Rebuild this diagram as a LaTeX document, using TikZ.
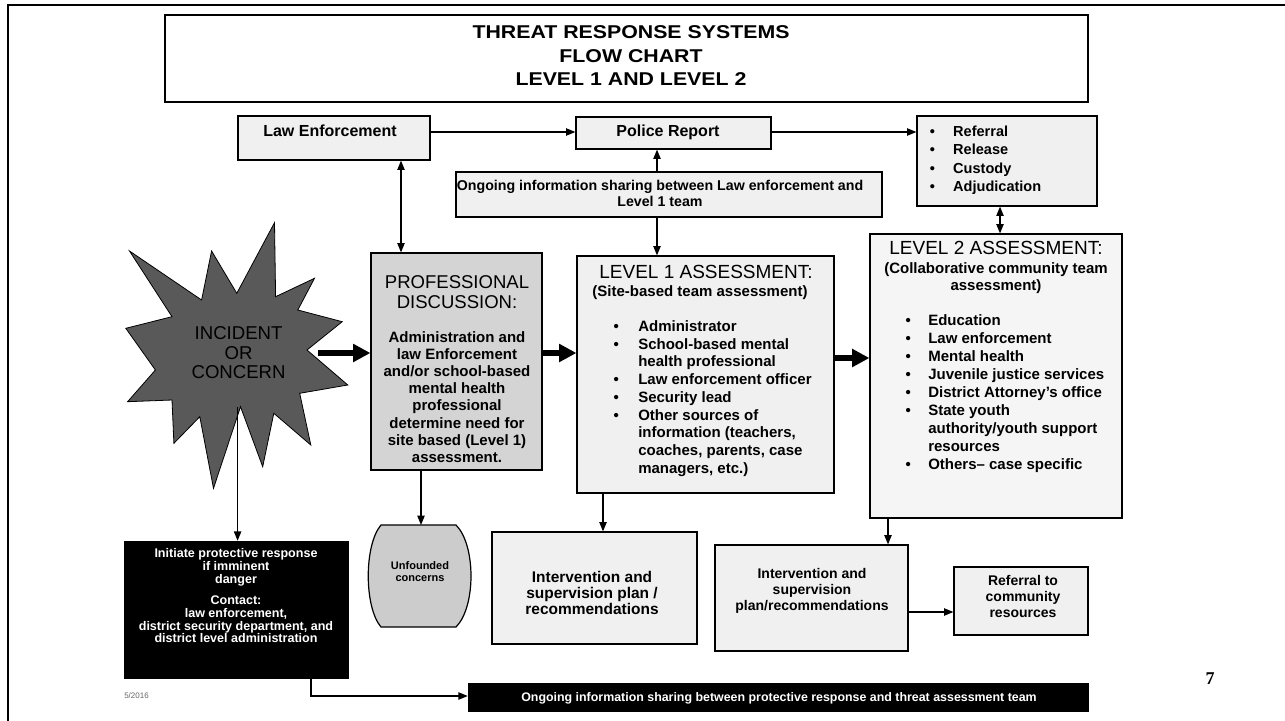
\documentclass[tikz,border=0pt]{standalone}
\usepackage{fontspec}
\setmainfont{Liberation Sans}
\newfontfamily\titlefont[FakeStretch=1.15]{Liberation Sans}
\newfontfamily\numfont{Liberation Serif}
\usetikzlibrary{arrows.meta,fit}
\newcommand\fsz[2]{\fontsize{#1}{#2}\selectfont}
\definecolor{boxfill}{gray}{0.94}
\definecolor{ltwofill}{gray}{0.96}
\definecolor{proffill}{gray}{0.83}
\definecolor{unffill}{gray}{0.80}
\definecolor{starfill}{gray}{0.35}
\begin{document}
\begin{tikzpicture}[x=0.75pt,y=-0.75pt,
  box/.style={draw=black, line width=0.9pt, fill=boxfill, inner sep=0pt},
  blackbox/.style={draw=black, fill=black, inner sep=0pt},
  txt/.style={inner sep=0pt, anchor=base},
  lst/.style={inner sep=0pt, anchor=base west},
  arr/.style={line width=0.9pt, -{Triangle[length=7pt,width=5.5pt]}},
  darr/.style={line width=0.9pt, {Triangle[length=7pt,width=5.5pt]}-{Triangle[length=7pt,width=5.5pt]}},
  bigarr/.style={line width=4.5pt, -{Triangle[length=13pt,width=13pt]}}]
\useasboundingbox (0,0) rectangle (1285,721);
% frame
\draw[line width=1.5pt] (8,721) -- (8,5) -- (1285,5);
% helper coordinates
\coordinate (y132) at (0,132);
\coordinate (y353) at (0,353);
\coordinate (y358) at (0,358);
\coordinate (y612) at (0,612);
\coordinate (y696) at (0,696);
\coordinate (x401) at (401,0);
\coordinate (x657) at (657,0);
\coordinate (x1000) at (1000,0);
\coordinate (x421) at (421,0);
\coordinate (x603) at (603,0);
\coordinate (x888) at (888,0);
\coordinate (x311) at (311,0);

% title
\node[draw=black, line width=2pt, fill=white, inner sep=0pt, fit={(165,15)(1088,102)}] (tbox) {};
\node[txt, font=\titlefont\bfseries\fsz{13.9pt}{17.6pt}] (ttl) at (631,38.6)
  {\begin{tabular}[t]{@{}c@{}}THREAT RESPONSE SYSTEMS\\FLOW CHART\\LEVEL 1 AND LEVEL 2\end{tabular}};

% top row
\node[box, fit={(238,116)(430,160)}] (le) {};
\node[txt, font=\bfseries\fsz{12pt}{14pt}] (let) at (330,136.5) {Law Enforcement};
\node[box, fit={(576,117)(771,149)}] (pr) {};
\node[txt, font=\bfseries\fsz{12pt}{14pt}] (prt) at (668,136.7) {Police Report};
\node[box, fit={(917,116)(1097,206)}] (ref) {};
\node[lst, font=\bfseries\fsz{10.9pt}{13.9pt}] (reft) at (929.5,136.2)
  {\begin{tabular}[t]{@{}p{17.6pt}@{}l@{}}•&Referral\\•&Release\\•&Custody\\•&Adjudication\end{tabular}};
\node[box, fit={(456,172)(882,217)}] (ong) {};
\node[txt, font=\bfseries\fsz{10.65pt}{12pt}] (ongt) at (660,190.1)
  {\begin{tabular}[t]{@{}c@{}}Ongoing information sharing between Law enforcement and\\Level 1 team\end{tabular}};

% star
\draw[fill=starfill, draw=black, line width=0.6pt]
  (274.5,222.7) -- (275.6,296.7) -- (314.5,278.3) -- (297.8,310) -- (342.2,321.7)
  -- (307,350) -- (347.8,385) -- (299.7,393.3) -- (310.8,445) -- (273.8,413.3)
  -- (262.7,466.7) -- (240.5,406.7) -- (213.5,488.3) -- (199.8,416.7) -- (173.9,443.3)
  -- (172,400) -- (127.6,401.7) -- (155.4,370) -- (125.8,328.3) -- (172,316.7)
  -- (129.5,251) -- (201.6,300) -- (211.6,251) -- (236.8,293.3) -- cycle;
\coordinate (starR) at (318,353);
\coordinate (starB) at (237.6,407);
\node[txt, font=\fsz{13.95pt}{14.6pt}] (inc) at (238.6,339.7)
  {\begin{tabular}[t]{@{}c@{}}INCIDENT\\OR\\CONCERN\end{tabular}};

% professional discussion
\node[box, fill=proffill, fit={(371,253)(542,470)}] (pd) {};
\node[txt, font=\fsz{13.9pt}{15pt}] (pdh) at (457,288.6)
  {\begin{tabular}[t]{@{}c@{}}PROFESSIONAL\\DISCUSSION:\end{tabular}};
\node[txt, font=\bfseries\fsz{11.25pt}{12.86pt}] (pdt) at (457,342.4)
  {\begin{tabular}[t]{@{}c@{}}Administration and\\law Enforcement\\and/or school-based\\mental health\\professional\\determine need for\\site based (Level 1)\\assessment.\end{tabular}};

% level 1
\node[box, fit={(577,256)(834,493)}] (l1) {};
\node[txt, font=\fsz{14.25pt}{16pt}] (l1h) at (706,278.8) {LEVEL 1 ASSESSMENT:};
\node[txt, font=\bfseries\fsz{11.25pt}{13pt}] (l1s) at (700,296.4) {(Site-based team assessment)};
\node[lst, font=\bfseries\fsz{11.25pt}{13.3pt}] (l1t) at (613.4,331.4)
  {\begin{tabular}[t]{@{}p{18.45pt}@{}l@{}}•&Administrator\\•&School-based mental\\&health professional\\•&Law enforcement officer\\•&Security lead\\•&Other sources of\\&information (teachers,\\&coaches, parents, case\\&managers, etc.)\end{tabular}};

% level 2
\node[box, fill=ltwofill, fit={(870,234)(1122,518)}] (l2) {};
\node[txt, font=\fsz{14.25pt}{16pt}] (l2h) at (996,254.8) {LEVEL 2 ASSESSMENT:};
\node[txt, font=\bfseries\fsz{11.25pt}{12.75pt}] (l2s) at (996,273.4)
  {\begin{tabular}[t]{@{}c@{}}(Collaborative community team\\assessment)\end{tabular}};
\node[lst, font=\bfseries\fsz{11.25pt}{13.5pt}] (l2t) at (905.4,325.4)
  {\begin{tabular}[t]{@{}p{16.95pt}@{}l@{}}•&Education\\•&Law enforcement\\•&Mental health\\•&Juvenile justice services\\•&District Attorney’s office\\•&State youth\\&authority/youth support\\&resources\\•&Others– case specific\end{tabular}};

% black box
\node[blackbox, fit={(124,541)(348,678)}] (blk) {};
\node[txt, text=white, font=\bfseries\fsz{9.4pt}{9.45pt}] (blkt) at (236,557.5)
  {\begin{tabular}[t]{@{}c@{}}Initiate protective response\\if imminent\\danger\\[6.4pt]Contact:\\law enforcement,\\district security department, and\\district level administration\end{tabular}};
\node[txt, anchor=base west, text=black!60, font=\fsz{6pt}{7pt}] (date) at (124,698) {5/2016};

% unfounded
\draw[fill=unffill, draw=black, line width=0.9pt]
  (381,525) -- (456,525) .. controls (476,545) and (476,607) .. (456,627)
  -- (381,627) .. controls (364,607) and (364,545) .. (381,525) -- cycle;
\coordinate (unftop) at (421,525);
\node[txt, font=\bfseries\fsz{8.25pt}{9pt}] (unf) at (420,569.9)
  {\begin{tabular}[t]{@{}c@{}}Unfounded\\concerns\end{tabular}};

% intervention boxes
\node[box, fit={(492,532)(697,644)}] (int1) {};
\node[txt, font=\bfseries\fsz{11.6pt}{12pt}] (int1t) at (592,582.5)
  {\begin{tabular}[t]{@{}c@{}}Intervention and\\supervision plan /\\recommendations\end{tabular}};
\node[box, fit={(715,545)(908,651)}] (int2) {};
\node[txt, font=\bfseries\fsz{10.5pt}{12pt}] (int2t) at (812,578)
  {\begin{tabular}[t]{@{}c@{}}Intervention and\\supervision\\plan/recommendations\end{tabular}};
\node[box, fit={(954,567)(1088,635)}] (rc) {};
\node[txt, font=\bfseries\fsz{10.5pt}{12pt}] (rct) at (1023,585)
  {\begin{tabular}[t]{@{}c@{}}Referral to\\community\\resources\end{tabular}};

% bottom bar
\node[blackbox, fit={(468,683)(1088,711)}] (bar) {};
\node[txt, text=white, font=\bfseries\fsz{9.3pt}{10pt}] (bart) at (779,701.4)
  {Ongoing information sharing between protective response and threat assessment team};

% page number
\node[txt, font=\numfont\bfseries\fsz{13.5pt}{14pt}] (pg) at (1210,684) {7};

% connectors
\draw[arr] (le.east |- y132) -- (pr.west |- y132);
\draw[line width=1.8pt] (le.east |- y132) -- ++(70,0);
\draw[arr] (pr.east |- y132) -- (ref.west |- y132);
\draw[arr] (x657 |- ong.north) -- (x657 |- pr.south);
\draw[arr] (x657 |- ong.south) -- (x657 |- l1.north);
\draw[darr] (x401 |- le.south) -- (x401 |- pd.north);
\draw[darr] (x1000 |- ref.south) -- (x1000 |- l2.north);
\draw[bigarr] (starR) -- (pd.west |- y353);
\draw[bigarr] (pd.east |- y353) -- (l1.west |- y353);
\draw[bigarr] (l1.east |- y358) -- (l2.west |- y358);
\draw[arr] (starB) -- (starB |- blk.north);
\draw[arr] (x421 |- pd.south) -- (unftop);
\draw[arr] (x603 |- l1.south) -- (x603 |- int1.north);
\draw[arr] (x888 |- l2.south) -- (x888 |- int2.north);
\draw[arr] (int2.east |- y612) -- (rc.west |- y612);
\draw[line width=1.8pt] (int2.east |- y612) -- ++(20,0);
\draw[arr] (x311 |- blk.south) -- (x311 |- y696) -- (bar.west |- y696);
\end{tikzpicture}
\end{document}
